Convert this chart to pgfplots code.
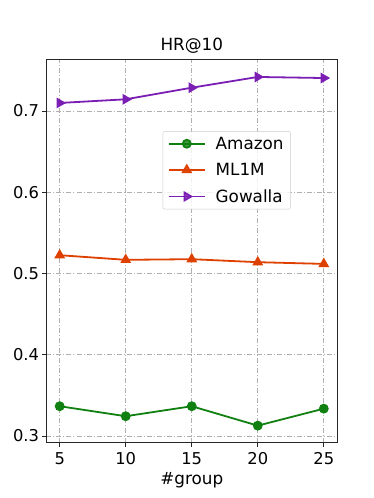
\documentclass[border=0pt]{standalone}
\usepackage{fontspec}
\setmainfont{DejaVu Sans}
\usepackage{pgfplots}
\pgfplotsset{compat=1.18}
\definecolor{cAmazon}{RGB}{16,128,16}
\definecolor{cML}{RGB}{222,64,0}
\definecolor{cGow}{RGB}{122,30,180}
\definecolor{gridgray}{RGB}{176,176,176}
\newcommand{\fs}{\fontsize{16.3}{19}\selectfont}
\newcommand{\ft}{\fontsize{16.8}{20}\selectfont}
\begin{document}
\begin{tikzpicture}
\begin{axis}[
  scale only axis,
  width=290.5pt, height=383.2pt,
  xmin=4, xmax=26,
  ymin=0.2917, ymax=0.7634,
  xtick={5,10,15,20,25},
  ytick={0.3,0.4,0.5,0.6,0.7},
  yticklabel style={/pgf/number format/fixed, /pgf/number format/precision=1},
  /pgf/number format/assume math mode=true,
  tick label style={font=\fs},
  xticklabel style={yshift=-2pt},
  title={\ft HR@10},
  title style={yshift=-3pt},
  xlabel={\ft\#group},
  xlabel style={yshift=-1pt},
  grid=major,
  grid style={gridgray, line width=0.6pt, dash pattern=on 5pt off 2pt on 1pt off 2pt},
  axis line style={black!85, line width=0.8pt},
  tick style={black!85, line width=0.8pt},
  tick align=outside,
  xtick pos=bottom, ytick pos=left,
  major tick length=4pt,
  legend style={
    at={(0.400,0.813)}, anchor=north west,
    font=\ft,
    draw=black!20, rounded corners=2pt,
    inner xsep=5pt, inner ysep=3.5pt, row sep=8.5pt,
    fill=white, fill opacity=0.8, text opacity=1,
    legend image code/.code={
      \draw[mark repeat=2,mark phase=2] plot coordinates {(0pt,0pt) (18pt,0pt) (36pt,0pt)};
      \path (44pt,0pt);
    },
  },
  legend cell align=left,
]
\addplot[cAmazon, line width=1.8pt, mark=*, mark size=4pt]
  coordinates{(5,0.3366)(10,0.3243)(15,0.3366)(20,0.3127)(25,0.3336)};
\addlegendentry{Amazon}
\addplot[cML, line width=1.8pt, mark=triangle*, mark size=4.5pt]
  coordinates{(5,0.5225)(10,0.5168)(15,0.5176)(20,0.5139)(25,0.5118)};
\addlegendentry{ML1M}
\addplot[cGow, line width=1.8pt, mark=triangle*, mark size=4.5pt, mark options={rotate=-90}]
  coordinates{(5,0.7099)(10,0.7144)(15,0.7287)(20,0.7419)(25,0.7406)};
\addlegendentry{Gowalla}
\end{axis}
\path (current axis.south west) ++(-46.5pt,-55.3pt) coordinate (bl);
\path (current axis.north east) ++(37pt,59.5pt) coordinate (tr);
\path (bl) rectangle (tr);
\end{tikzpicture}
\end{document}
